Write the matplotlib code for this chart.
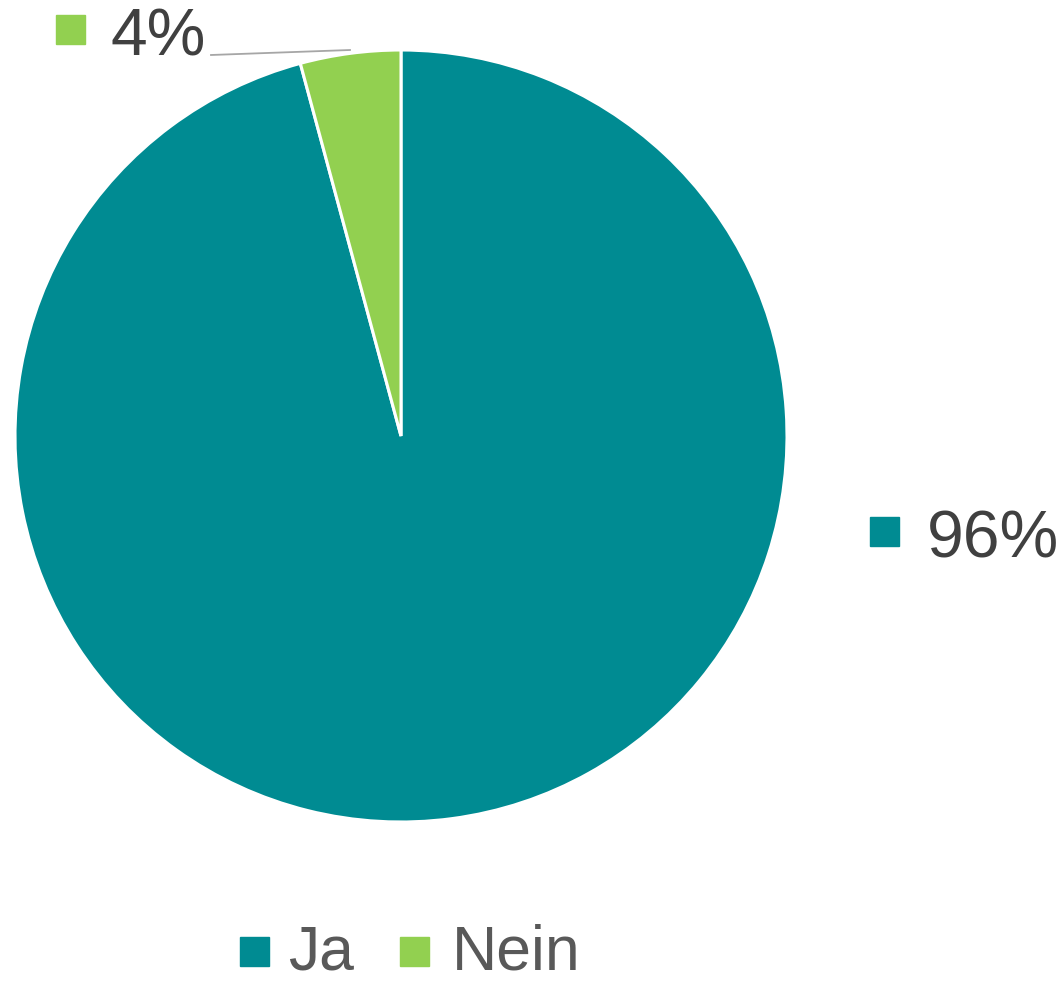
import matplotlib
matplotlib.use("Agg")
import matplotlib.pyplot as plt
from matplotlib.patches import Rectangle

plt.rcParams['font.family'] = ['Liberation Sans', 'DejaVu Sans']

categories = ["Ja", "Nein"]
values = [95.8, 4.2]
colors = ["#008B92", "#92D050"]
pct_labels = ["96%", "4%"]

W, H = 1062, 981
fig = plt.figure(figsize=(W / 100, H / 100), dpi=100)

def fx(x):
    return x / W

def fy(y):
    return 1 - y / H

# pie axes: center (401,436), radius 386 px
cx, cy, r = 401, 436, 386
ax = fig.add_axes([fx(cx - r), fy(cy + r), 2 * r / W, 2 * r / H])
ax.pie(values, colors=colors, startangle=90, counterclock=False,
       wedgeprops=dict(edgecolor="white", linewidth=2.2), radius=1)
ax.set_xlim(-1, 1)
ax.set_ylim(-1, 1)
ax.set_aspect('auto')
ax.axis('off')

text_col = "#404040"
leg_col = "#595959"
sq = 29

# data labels
label_pos = [(870, 517, 927, 558), (56, 15, 111, 55)]
for i, (sx, sy, tx, ty) in enumerate(label_pos):
    fig.patches.append(Rectangle((fx(sx), fy(sy + sq)), sq / W, sq / H,
                                 transform=fig.transFigure, color=colors[i]))
    fig.text(fx(tx), fy(ty), pct_labels[i], fontsize=47.5, color=text_col,
             va='baseline', ha='left')

# leader line for small slice
fig.add_artist(plt.Line2D([fx(211), fx(350)], [fy(55), fy(50)],
                          transform=fig.transFigure, color="#A6A6A6", lw=1.3))

# legend
leg_pos = [(240, 288), (400, 452)]
for i, (sx, tx) in enumerate(leg_pos):
    fig.patches.append(Rectangle((fx(sx), fy(937 + sq)), sq / W, sq / H,
                                 transform=fig.transFigure, color=colors[i]))
    fig.text(fx(tx), fy(969), categories[i], fontsize=45, color=leg_col,
             va='baseline', ha='left')

fig.savefig("out.png", dpi=100, facecolor="white")
